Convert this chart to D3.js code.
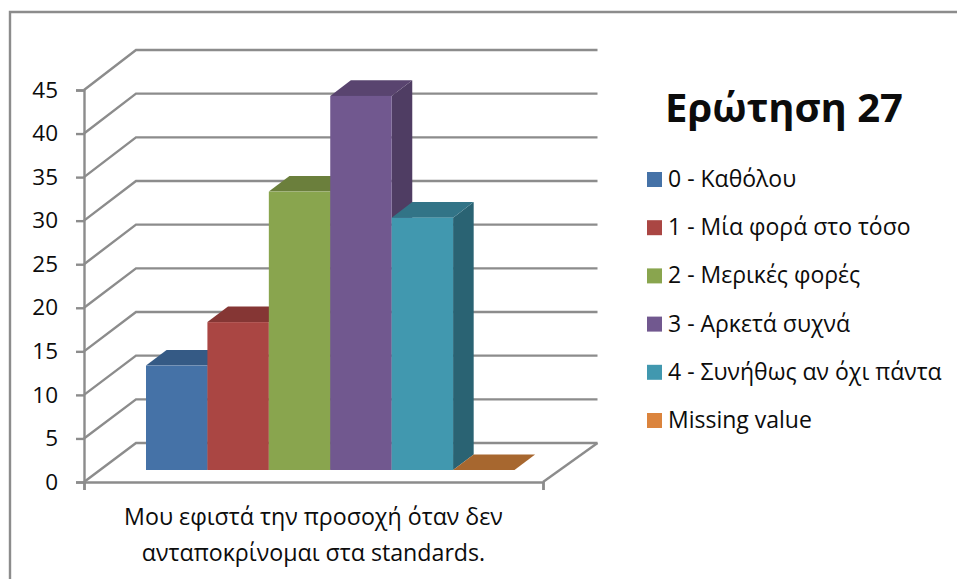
<!DOCTYPE html>
<html>
<head>
<meta charset="utf-8">
<script src="https://cdn.jsdelivr.net/npm/d3@7/dist/d3.min.js"></script>
<style>
html,body{margin:0;padding:0;background:#fff;}
svg{display:block;}
text{font-family:"Open Sans","Noto Sans",sans-serif;fill:#0c0c0c;}
</style>
</head>
<body>
<svg id="chart" width="957" height="579"></svg>
<script>
// Survey responses for question 27, one series per answer option
const seriesNames = ["0 - Καθόλου","1 - Μία φορά στο τόσο","2 - Μερικές φορές","3 - Αρκετά συχνά","4 - Συνήθως αν όχι πάντα","Missing value"];
const seriesValues = [12,17,32,43,29,0];
const frontColors = ["#4572a7","#aa4643","#89a54e","#71588f","#4198af","#db843d"];
const topColors = ["#355a85","#853634","#6b7f3c","#59446f","#327487","#a7672f"];
const sideColors = ["#2f4f75","#75302e","#5e7035","#4f3d63","#2a6373","#96592a"];
const yTicks = [0,5,10,15,20,25,30,35,40,45];
const categoryLines = ["Μου εφιστά την προσοχή όταν δεν","ανταποκρίνομαι στα standards."];
const titleText = "Ερώτηση 27";

const svg = d3.select("#chart");
const grey = "#8c8c8c";

// Outer chart frame (top and left edges)
svg.append("path").attr("d","M10,579V12H957").attr("fill","none").attr("stroke",grey).attr("stroke-width",2.4);

// Scales for the wall front plane, the wall back plane and the bar plane
const yFront = d3.scaleLinear().domain([0,45]).range([482,90]);
const yBack = d3.scaleLinear().domain([0,45]).range([443,50]);
const yBar = d3.scaleLinear().domain([0,45]).range([470,78.5]);
const xFloor = d3.scaleLinear().domain([0,1]).range([84,543]);
const xBack = d3.scaleLinear().domain([0,1]).range([136,597.5]);
const xBar = d3.scaleBand().domain(seriesNames).range([146,514.5]);
const depthX = 20.6, depthY = 15.6;

// Gridlines: a slanted segment on the side wall and a horizontal one on the back wall
const grid = svg.append("g").attr("fill","none").attr("stroke",grey).attr("stroke-width",2.4);
grid.selectAll("path").data(yTicks).join("path")
  .attr("d",d=>`M${xFloor(0)},${yFront(d)}L${xBack(0)},${yBack(d)}H${xBack(1)}`);
// Floor edge running from the back right corner to the front right corner
grid.append("path").attr("d",`M${xBack(1)},${yBack(0)}L${xFloor(1)},${yFront(0)}`);

// Value axis
const yAxis = svg.append("g").attr("transform",`translate(${xFloor(0)},0)`)
  .call(d3.axisLeft(yFront).tickValues(yTicks).tickSize(8).tickPadding(18));
yAxis.selectAll("path,line").attr("stroke",grey).attr("stroke-width",2.4);
yAxis.selectAll("text").attr("font-size",22.5).attr("font-family",null);
// Category axis, ticks at both ends of the single category
const xAxis = svg.append("g").attr("transform",`translate(0,${yFront(0)})`)
  .call(d3.axisBottom(xFloor).tickValues([0,1]).tickSize(8).tickFormat(""));
xAxis.selectAll("path,line").attr("stroke",grey).attr("stroke-width",2.4);

// Bars: side, top and front faces, drawn left to right so neighbours overlap
const bars = svg.append("g").selectAll("g").data(seriesNames).join("g");
bars.each(function(name,i){
  const g = d3.select(this);
  const x0 = xBar(name), x1 = x0 + xBar.bandwidth();
  const yT = yBar(seriesValues[i]), yB = yBar(0);
  if (seriesValues[i] > 0) {
    g.append("path").attr("fill",sideColors[i])
      .attr("d",`M${x1},${yT}L${x1+depthX},${yT-depthY}V${yB-depthY}L${x1},${yB}Z`);
  }
  g.append("path").attr("fill",topColors[i])
    .attr("d",`M${x0},${yT}L${x0+depthX},${yT-depthY}H${x1+depthX}L${x1},${yT}Z`);
  if (seriesValues[i] > 0) {
    g.append("rect").attr("x",x0).attr("y",yT).attr("width",x1-x0).attr("height",yB-yT).attr("fill",frontColors[i]);
  }
});

// Category label on two lines
svg.append("g").selectAll("text").data(categoryLines).join("text")
  .attr("x",313.5).attr("y",(d,i)=>525+i*36).attr("text-anchor","middle").attr("font-size",23.2).text(d=>d);

// Chart title
svg.append("text").attr("x",665).attr("y",122).attr("font-size",40).attr("font-weight",700).text(titleText);

// Legend
const legend = svg.append("g").selectAll("g").data(seriesNames).join("g")
  .attr("transform",(d,i)=>`translate(647,${172+i*48.2})`);
legend.append("rect").attr("width",15).attr("height",15).attr("fill",(d,i)=>frontColors[i]);
legend.append("text").attr("x",21).attr("y",15).attr("font-size",23).text(d=>d);
</script>
</body>
</html>
